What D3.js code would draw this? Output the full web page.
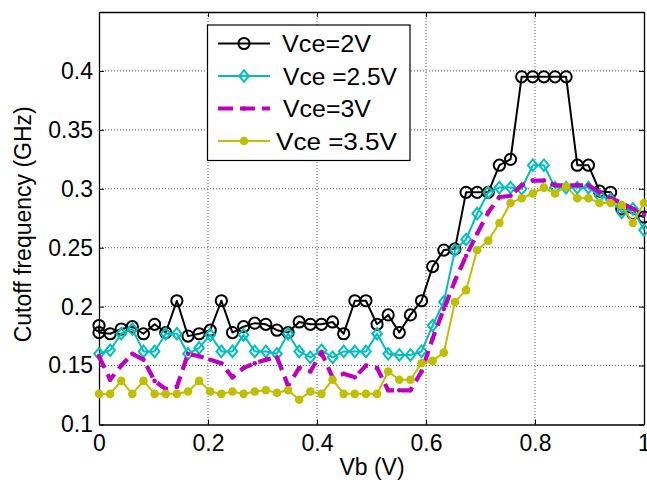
<!DOCTYPE html>
<html>
<head>
<meta charset="utf-8">
<script src="https://cdn.jsdelivr.net/npm/d3@7"></script>
<style>
  html, body { margin: 0; padding: 0; background: #fff; }
  svg { display: block; }
  text { font-family: "Liberation Sans", Arial, Helvetica, sans-serif; }
</style>
</head>
<body>
<svg id="chart" width="647" height="483"></svg>
<script>
// ---- data ----
const vb = [0, 0.0204, 0.0408, 0.0612, 0.0816, 0.102, 0.1224, 0.1429, 0.1633, 0.1837,
  0.2041, 0.2245, 0.2449, 0.2653, 0.2857, 0.3061, 0.3265, 0.3469, 0.3673, 0.3878,
  0.4082, 0.4286, 0.449, 0.4694, 0.4898, 0.5102, 0.5306, 0.551, 0.5714, 0.5918,
  0.6122, 0.6327, 0.6531, 0.6735, 0.6939, 0.7143, 0.7347, 0.7551, 0.7755, 0.7959,
  0.8163, 0.8367, 0.8571, 0.8776, 0.898, 0.9184, 0.9388, 0.9592, 0.9796, 1];

// Vce=2V has two samples at Vb = 0
const vbVce2 = [0].concat(vb);
const fVce2 = [0.184, 0.178, 0.177, 0.181, 0.183, 0.177, 0.185, 0.178, 0.205, 0.175, 0.177,
  0.180, 0.205, 0.178, 0.183, 0.186, 0.185, 0.180, 0.178, 0.187, 0.185,
  0.185, 0.187, 0.177, 0.205, 0.205, 0.185, 0.193, 0.178, 0.193, 0.205,
  0.234, 0.248, 0.249, 0.297, 0.297, 0.297, 0.320, 0.325, 0.395, 0.395,
  0.395, 0.395, 0.395, 0.320, 0.320, 0.298, 0.297, 0.283, 0.279, 0.276];

const fVce25 = [0.160, 0.163, 0.177, 0.181, 0.162, 0.162, 0.177, 0.177, 0.160, 0.165,
  0.176, 0.162, 0.162, 0.176, 0.162, 0.162, 0.160, 0.177, 0.162, 0.157,
  0.163, 0.157, 0.162, 0.162, 0.162, 0.177, 0.160, 0.159, 0.159, 0.162,
  0.184, 0.204, 0.248, 0.257, 0.279, 0.297, 0.301, 0.301, 0.300, 0.320,
  0.320, 0.301, 0.301, 0.301, 0.301, 0.294, 0.291, 0.280, 0.283, 0.265];

const fVce3 = [0.158, 0.138, 0.150, 0.160, 0.155, 0.137, 0.130, 0.132, 0.160, 0.158,
  0.155, 0.152, 0.140, 0.148, 0.152, 0.155, 0.157, 0.133, 0.148, 0.145,
  0.161, 0.140, 0.143, 0.140, 0.150, 0.148, 0.129, 0.129, 0.129, 0.145,
  0.173, 0.198, 0.222, 0.243, 0.262, 0.280, 0.293, 0.294, 0.303, 0.307,
  0.307, 0.303, 0.303, 0.303, 0.303, 0.297, 0.292, 0.288, 0.283, 0.278];

const fVce35 = [0.126, 0.126, 0.137, 0.126, 0.137, 0.126, 0.126, 0.126, 0.128, 0.137,
  0.128, 0.126, 0.128, 0.126, 0.128, 0.129, 0.127, 0.129, 0.121, 0.128,
  0.126, 0.138, 0.126, 0.126, 0.126, 0.126, 0.145, 0.138, 0.138, 0.152,
  0.154, 0.161, 0.204, 0.214, 0.248, 0.256, 0.271, 0.288, 0.292, 0.296,
  0.301, 0.296, 0.302, 0.292, 0.292, 0.288, 0.288, 0.286, 0.271, 0.288];

const seriesNames = ["Vce=2V", "Vce =2.5V", "Vce=3V", "Vce =3.5V"];
const xTicks = [0, 0.2, 0.4, 0.6, 0.8, 1];
const yTicks = [0.1, 0.15, 0.2, 0.25, 0.3, 0.35, 0.4];
const xLabel = "Vb (V)";
const yLabel = "Cutoff frequency (GHz)";

// ---- layout ----
const svg = d3.select("#chart");
const L = 99, R = 644, T = 12, B = 424.5;
const x = d3.scaleLinear().domain([0, 1]).range([L, R]);
const y = d3.scaleLinear().domain([0.1, 0.45]).range([B, T]);
const FS = 23;

svg.append("rect").attr("width", 647).attr("height", 483).attr("fill", "#fff");

// grid
const grid = svg.append("g");
grid.selectAll(".gx").data(xTicks.slice(1, -1)).join("line")
  .attr("x1", d => x(d)).attr("x2", d => x(d)).attr("y1", T).attr("y2", B)
  .attr("stroke", "#606060").attr("stroke-width", 1).attr("stroke-dasharray", "1,2");
grid.selectAll(".gy").data(yTicks.slice(1)).join("line")
  .attr("y1", d => y(d)).attr("y2", d => y(d)).attr("x1", L).attr("x2", R)
  .attr("stroke", "#606060").attr("stroke-width", 1).attr("stroke-dasharray", "1,2");

// axes
const fmt = d => String(+d.toFixed(2));
const axB = svg.append("g").attr("transform", `translate(0,${B})`)
  .call(d3.axisBottom(x).tickValues(xTicks).tickFormat(fmt).tickSize(-5).tickSizeOuter(0).tickPadding(10));
const axL = svg.append("g").attr("transform", `translate(${L},0)`)
  .call(d3.axisLeft(y).tickValues(yTicks).tickFormat(fmt).tickSize(-5).tickSizeOuter(0).tickPadding(6));
const axT = svg.append("g").attr("transform", `translate(0,${T})`)
  .call(d3.axisTop(x).tickValues(xTicks).tickFormat("").tickSize(-5).tickSizeOuter(0));
const axR = svg.append("g").attr("transform", `translate(${R},0)`)
  .call(d3.axisRight(y).tickValues(yTicks).tickFormat("").tickSize(-5).tickSizeOuter(0));
[axB, axL, axT, axR].forEach(g => {
  g.select(".domain").attr("stroke", "#000").attr("stroke-width", 1.3);
  g.selectAll(".tick line").attr("stroke", "#000").attr("stroke-width", 1);
  g.selectAll("text").attr("font-size", FS).attr("fill", "#000")
    .attr("font-family", '"Liberation Sans", Arial, sans-serif');
});

// axis labels
svg.append("text").attr("x", (L + R) / 2 + 0.5).attr("y", 475)
  .attr("text-anchor", "middle").attr("font-size", FS).text(xLabel);
svg.append("text").attr("transform", `translate(31,${(T + B) / 2 + 6}) rotate(-90)`)
  .attr("text-anchor", "middle").attr("font-size", FS).text(yLabel);

// series
const colors = ["#000000", "#00BFBF", "#BF00BF", "#BFBF00"];
const dataSets = [
  vbVce2.map((v, i) => [v, fVce2[i]]),
  vb.map((v, i) => [v, fVce25[i]]),
  vb.map((v, i) => [v, fVce3[i]]),
  vb.map((v, i) => [v, fVce35[i]])
];
const lineGen = d3.line().x(d => x(d[0])).y(d => y(d[1]));
const lineStyles = [
  { w: 2, dash: null },
  { w: 2, dash: null },
  { w: 4.2, dash: "13,7" },
  { w: 2, dash: null }
];
const diamond = (cx, cy, s) => `M${cx},${cy - s * 1.2}L${cx + s},${cy}L${cx},${cy + s * 1.2}L${cx - s},${cy}Z`;

function drawMarkers(g, pts, k) {
  const c = colors[k];
  if (k === 0) {
    g.selectAll("circle").data(pts).join("circle")
      .attr("cx", d => d[0]).attr("cy", d => d[1]).attr("r", 5.6)
      .attr("fill", "none").attr("stroke", c).attr("stroke-width", 2);
  } else if (k === 1) {
    g.selectAll("path").data(pts).join("path")
      .attr("d", d => diamond(d[0], d[1], 4.8))
      .attr("fill", "none").attr("stroke", c).attr("stroke-width", 2);
  } else if (k === 2) {
    g.selectAll("circle").data(pts).join("circle")
      .attr("cx", d => d[0]).attr("cy", d => d[1]).attr("r", 2.3).attr("fill", c);
  } else {
    g.selectAll("circle").data(pts).join("circle")
      .attr("cx", d => d[0]).attr("cy", d => d[1]).attr("r", 4.3).attr("fill", c);
  }
}

dataSets.forEach((ds, k) => {
  const g = svg.append("g");
  g.append("path").datum(ds).attr("d", lineGen)
    .attr("fill", "none").attr("stroke", colors[k])
    .attr("stroke-width", lineStyles[k].w)
    .attr("stroke-dasharray", lineStyles[k].dash)
    .attr("stroke-linejoin", "round");
  drawMarkers(g.append("g"), ds.map(d => [x(d[0]), y(d[1])]), k);
});

// legend
const lg = svg.append("g");
lg.append("rect").attr("x", 207.5).attr("y", 25).attr("width", 202.5).attr("height", 135.5)
  .attr("fill", "#fff").attr("stroke", "#000").attr("stroke-width", 1.2);
const rowY = [43.5, 76, 108.5, 141];
const textX = [282, 283, 283, 276];
const textW = [89, 114, 88, 121];
seriesNames.forEach((name, k) => {
  const ry = rowY[k];
  lg.append("line").attr("x1", 218).attr("x2", 270).attr("y1", ry).attr("y2", ry)
    .attr("stroke", colors[k]).attr("stroke-width", lineStyles[k].w)
    .attr("stroke-dasharray", k === 2 ? "15,7" : null);
  drawMarkers(lg.append("g"), [[244, ry]], k);
  lg.append("text").attr("x", textX[k]).attr("y", ry + 8.5)
    .attr("font-size", 24).attr("fill", "#000")
    .attr("textLength", textW[k]).attr("lengthAdjust", "spacingAndGlyphs")
    .text(name);
});
</script>
</body>
</html>
